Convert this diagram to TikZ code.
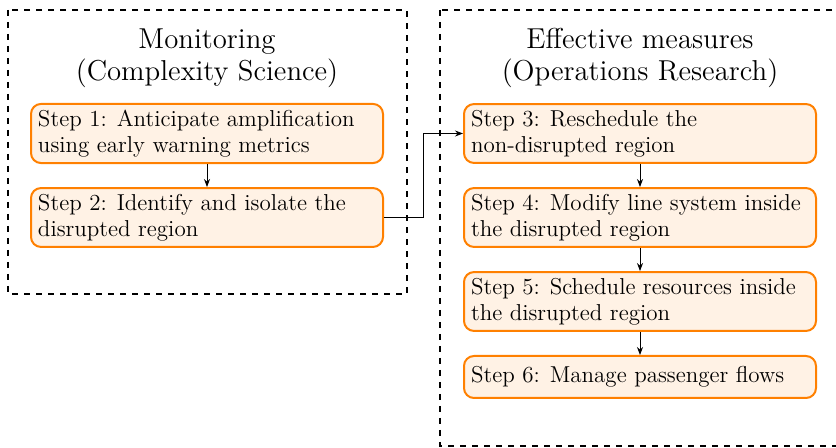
\documentclass[tikz,border=0pt]{standalone}
\usetikzlibrary{arrows.meta}
\begin{document}
\begin{tikzpicture}[x=0.5pt,y=-0.5pt,
  stepbox/.style={draw=orange, fill=orange!10, line width=1pt, rounded corners=5pt,
    text width=169pt, inner xsep=3.5pt, inner ysep=3pt, align=flush left, minimum height=21pt,
    font=\fontsize{11.5}{13}\selectfont},
  groupbox/.style={draw=black, line width=0.8pt, dashed},
  titletext/.style={font=\Large, align=center},
  conn/.style={-{Stealth[length=4pt,width=3pt]}, line width=0.4pt}]
\useasboundingbox (0,0) rectangle (836,448);
\draw[groupbox] (8,10) rectangle (407,294);
\draw[groupbox] (440,10) rectangle (860,446);
\node[titletext] (t1) at (207,58) {Monitoring\\[-2pt](Complexity Science)};
\node[titletext] (t2) at (640,58) {Effective measures\\[-2pt](Operations Research)};
\node[stepbox] (s1) at (207,133.5) {Step 1: Anticipate amplification using early warning metrics};
\node[stepbox] (s2) at (207,217.5) {Step 2: Identify and isolate the disrupted region};
\node[stepbox] (s3) at (640,133.5) {Step 3: Reschedule the\\ non-disrupted region};
\node[stepbox] (s4) at (640,217.5) {Step 4: Modify line system inside the disrupted region};
\node[stepbox] (s5) at (640,301.5) {Step 5: Schedule resources inside the disrupted region};
\node[stepbox] (s6) at (640,377) {Step 6: Manage passenger flows};
\coordinate (k) at (423,217.5);
\draw[conn] (s1) -- (s2);
\draw[conn] (s3) -- (s4);
\draw[conn] (s4) -- (s5);
\draw[conn] (s5) -- (s6);
\draw[conn] (s2.east) -- (k) |- (s3.west);
\end{tikzpicture}
\end{document}
